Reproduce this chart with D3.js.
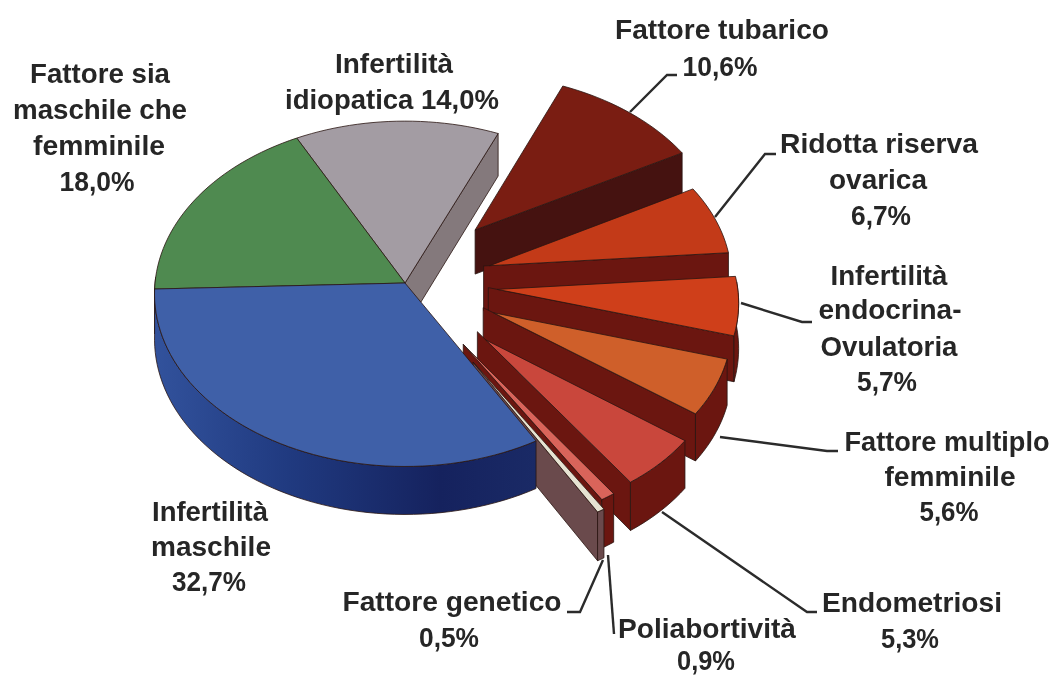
<!DOCTYPE html>
<html><head><meta charset="utf-8">
<script src="https://cdn.jsdelivr.net/npm/d3@7/dist/d3.min.js"></script>
<style>html,body{margin:0;padding:0;background:#fff}svg{display:block;filter:blur(0.5px)}
text{font-family:"Liberation Sans",Arial,sans-serif;font-weight:700;font-size:28px;fill:#262626;text-anchor:middle}</style>
</head><body><svg id="c" width="1062" height="675"></svg>
<script>
const categories=["Fattore tubarico","Ridotta riserva ovarica","Infertilità endocrina-Ovulatoria","Fattore multiplo femminile","Endometriosi","Poliabortività","Fattore genetico","Infertilità maschile","Fattore sia maschile che femminile","Infertilità idiopatica"];
const values=[10.6,6.7,5.7,5.6,5.3,0.9,0.5,32.7,18.0,14.0];
const explodes=[0.425,0.356,0.37,0.39,0.453,0.417,0.52,0,0,0];
const radii=[1,0.97,0.96,0.94,0.92,0.96,0.9,1,1,1];
const wallExtend=[0,0.025,0.037,0.05,0.056,0,0,0,0,0];
const topColors=["#7a1d12","#c33a18","#cf3f1a","#cf5f2a","#c9473c","#d9645a","#e6e3d2","#3f60a8","#4f8a50","#a39ca3"];
const wallColors=["#451210","#6b1610","#6b1610","#6b1610","#6b1610","#6b1610","#6a4a4c","#1d2f6e","#355e38","#84797c"];
const drawOrder=[9,8,0,1,2,3,4,5,6,7];
const labelLines=[
 {t:"Fattore tubarico",x:722,y:39,w:214},{t:"10,6%",x:720,y:76,w:75},
 {t:"Ridotta riserva",x:879,y:153,w:198},{t:"ovarica",x:878,y:189,w:98},{t:"6,7%",x:881,y:225,w:60},
 {t:"Infertilità",x:889,y:285,w:117},{t:"endocrina-",x:890,y:319,w:143},{t:"Ovulatoria",x:889,y:356,w:137},{t:"5,7%",x:887,y:391,w:60},
 {t:"Fattore multiplo",x:947,y:451,w:205},{t:"femminile",x:950,y:486,w:131},{t:"5,6%",x:949,y:521,w:59},
 {t:"Endometriosi",x:912,y:612,w:180},{t:"5,3%",x:910,y:648,w:58},
 {t:"Poliabortività",x:707,y:638,w:178},{t:"0,9%",x:706,y:670,w:58},
 {t:"Fattore genetico",x:452,y:611,w:219},{t:"0,5%",x:449,y:647,w:60},
 {t:"Infertilità",x:210,y:521,w:116},{t:"maschile",x:211,y:556,w:120},{t:"32,7%",x:209,y:591,w:74},
 {t:"Fattore sia",x:100,y:83,w:140},{t:"maschile che",x:100,y:119,w:174},{t:"femminile",x:99,y:155,w:132},{t:"18,0%",x:97,y:191,w:75},
 {t:"Infertilità",x:394,y:73,w:118},{t:"idiopatica 14,0%",x:392,y:109,w:214}];
const leaders=[
 [[630,112],[667,75],[677,75]],
 [[715,217],[765,154],[776,154]],
 [[741,303],[802,322],[812,322]],
 [[720,437],[827,451],[838,451]],
 [[662,512],[807,612],[817,612]],
 [[608,555],[614,634]],
 [[603,560],[580,612],[567,612]]];

const svg=d3.select("#c");
const rad=d=>d*Math.PI/180;
const cx=405,cy=283,D=16,H=45;
const sx=d3.scaleLinear().domain([0,1]).range([cx,cx+250]);
const sy=d3.scaleLinear().domain([0,1]).range([cy,cy-172]);
const proj=(x,y,down=false)=>{const w=1+y/D;return [sx(x/w),sy(y/w)+(down?H/w:0)];};
const pie=d3.pie().sort(null).value(d=>d).startAngle(rad(23.2)).endAngle(rad(383.2));
const arcs=pie(values);
const line=d3.line();
const defs=svg.append("defs");
const g=defs.append("linearGradient").attr("id","blueSide").attr("x1",0).attr("x2",1).attr("y1",0).attr("y2",0);
g.append("stop").attr("offset",0).attr("stop-color","#32529c");
g.append("stop").attr("offset",0.35).attr("stop-color","#203a80");
g.append("stop").attr("offset",0.75).attr("stop-color","#15225e");
g.append("stop").attr("offset",1).attr("stop-color","#1a2a66");

const root=svg.append("g");
function sliceGeom(i){
  const a=arcs[i],mid=(a.startAngle+a.endAngle)/2,e=explodes[i];
  const ox=e*Math.sin(mid),oy=e*Math.cos(mid);
  const pt=(t,rr,down)=>proj(ox+rr*Math.sin(t),oy+rr*Math.cos(t),down);
  return {a,pt};
}
function drawSlice(i){
  const {a,pt}=sliceGeom(i),r=radii[i];
  const n=Math.max(4,Math.ceil((a.endAngle-a.startAngle)/rad(2)));
  const ts=d3.range(n+1).map(k=>a.startAngle+(a.endAngle-a.startAngle)*k/n);
  const style=s=>s.attr("stroke","#2a1512").attr("stroke-width",0.8).attr("stroke-linejoin","round");
  if(i!==7&&i!==8){
    const t=a.endAngle,ext=-wallExtend[i];
    style(root.append("path").attr("d",line([pt(t,ext,false),pt(t,r,false),pt(t,r,true),pt(t,ext,true)])+"Z").attr("fill",wallColors[i]));
  }
  const front=ts.filter(t=>Math.cos(t)<0.06);
  if(front.length>1){
    const wp=front.map(t=>pt(t,r,false)).concat(front.slice().reverse().map(t=>pt(t,r,true)));
    style(root.append("path").attr("d",line(wp)+"Z").attr("fill",i===7?"url(#blueSide)":wallColors[i]));
  }
  const tp=[pt(a.startAngle,0,false)].concat(ts.map(t=>pt(t,r,false)));
  style(root.append("path").attr("d",line(tp)+"Z").attr("fill",topColors[i]));
}
drawOrder.forEach(drawSlice);
root.selectAll("path.leader").data(leaders).enter().append("path").attr("class","leader")
  .attr("d",d=>line(d)).attr("fill","none").attr("stroke","#2b2b2b").attr("stroke-width",2.4);
svg.append("g").selectAll("text").data(labelLines).enter().append("text")
  .attr("x",d=>d.x).attr("y",d=>d.y).attr("textLength",d=>d.w).attr("lengthAdjust","spacingAndGlyphs").text(d=>d.t);
</script></body></html>
